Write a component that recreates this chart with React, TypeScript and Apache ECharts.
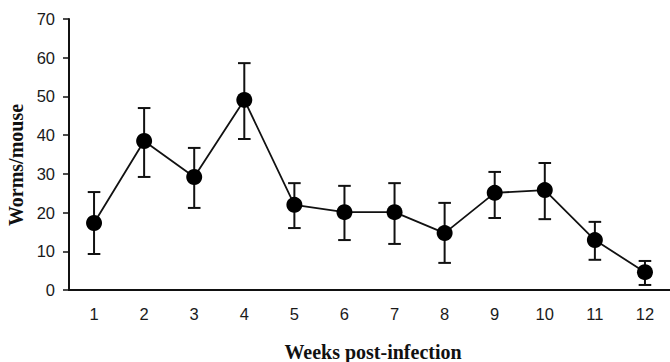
import React, { useEffect, useRef } from "react";
import * as echarts from "echarts";

const weeks = ["1", "2", "3", "4", "5", "6", "7", "8", "9", "10", "11", "12"];
const meanWorms = [17.3, 38.5, 29.2, 49.1, 22.0, 20.1, 20.1, 14.7, 25.1, 25.8, 12.9, 4.6];
const upperWorms = [25.3, 47.0, 36.7, 58.6, 27.6, 26.9, 27.6, 22.5, 30.5, 32.8, 17.6, 7.5];
const lowerWorms = [9.3, 29.2, 21.2, 39.0, 16.0, 12.9, 11.9, 7.0, 18.6, 18.3, 7.8, 1.3];
const yTicks = [0, 10, 20, 30, 40, 50, 60, 70];

const SANS = "'Liberation Sans', Arial, sans-serif";

export default function App() {
  const ref = useRef<HTMLDivElement>(null);

  useEffect(() => {
    if (!ref.current) return;
    const chart = echarts.init(ref.current, null, { renderer: "svg" });
    const errData = weeks.map((_, i) => [i, lowerWorms[i], upperWorms[i]]);
    chart.setOption({
      animation: false,
      backgroundColor: "#ffffff",
      grid: { left: 69, right: -8.6, top: 19, bottom: 72, containLabel: false },
      xAxis: {
        type: "category",
        data: weeks,
        boundaryGap: true,
        axisLine: { show: true, onZero: false, lineStyle: { color: "#111", width: 2 } },
        axisTick: { show: false },
        axisLabel: {
          color: "#1a1a1a",
          fontSize: 16.5,
          fontFamily: SANS,
          margin: 15,
        },
        splitLine: { show: false },
      },
      yAxis: {
        type: "value",
        min: yTicks[0],
        max: yTicks[yTicks.length - 1],
        interval: 10,
        axisLine: { show: true, lineStyle: { color: "#111", width: 2 } },
        axisTick: { show: true, inside: false, length: 6, lineStyle: { color: "#111", width: 1.5 } },
        axisLabel: {
          color: "#1a1a1a",
          fontSize: 16.5,
          fontFamily: SANS,
          margin: 14,
        },
        splitLine: { show: false },
      },
      graphic: [
        {
          type: "text",
          x: 373,
          y: 352,
          style: {
            text: "Weeks post-infection",
            font: "bold 20px 'Liberation Serif', 'Times New Roman', serif",
            fill: "#111",
            align: "center",
            verticalAlign: "middle",
          },
        },
        {
          type: "text",
          x: 16,
          y: 165,
          rotation: Math.PI / 2,
          style: {
            text: "Worms/mouse",
            font: "bold 20px 'Liberation Serif', 'Times New Roman', serif",
            fill: "#111",
            align: "center",
            verticalAlign: "middle",
          },
        },
      ],
      series: [
        {
          type: "custom",
          z: 1,
          data: errData,
          encode: { x: 0, y: [1, 2] },
          renderItem: (params: any, api: any) => {
            const idx = api.value(0);
            const lo = api.coord([idx, api.value(1)]);
            const hi = api.coord([idx, api.value(2)]);
            const hw = 6.3;
            const style = { stroke: "#111", lineWidth: 2 };
            return {
              type: "group",
              children: [
                { type: "line", shape: { x1: lo[0], y1: lo[1], x2: hi[0], y2: hi[1] }, style },
                { type: "line", shape: { x1: hi[0] - hw, y1: hi[1], x2: hi[0] + hw, y2: hi[1] }, style },
                { type: "line", shape: { x1: lo[0] - hw, y1: lo[1], x2: lo[0] + hw, y2: lo[1] }, style },
              ],
            };
          },
        },
        {
          type: "line",
          z: 3,
          data: meanWorms,
          symbol: "circle",
          symbolSize: 16,
          itemStyle: { color: "#000" },
          lineStyle: { color: "#111", width: 1.8 },
        },
      ],
    });
    return () => chart.dispose();
  }, []);

  return (
    <div
      ref={ref}
      style={{ position: "fixed", left: 0, top: 0, width: 670, height: 362, background: "#fff" }}
    />
  );
}
